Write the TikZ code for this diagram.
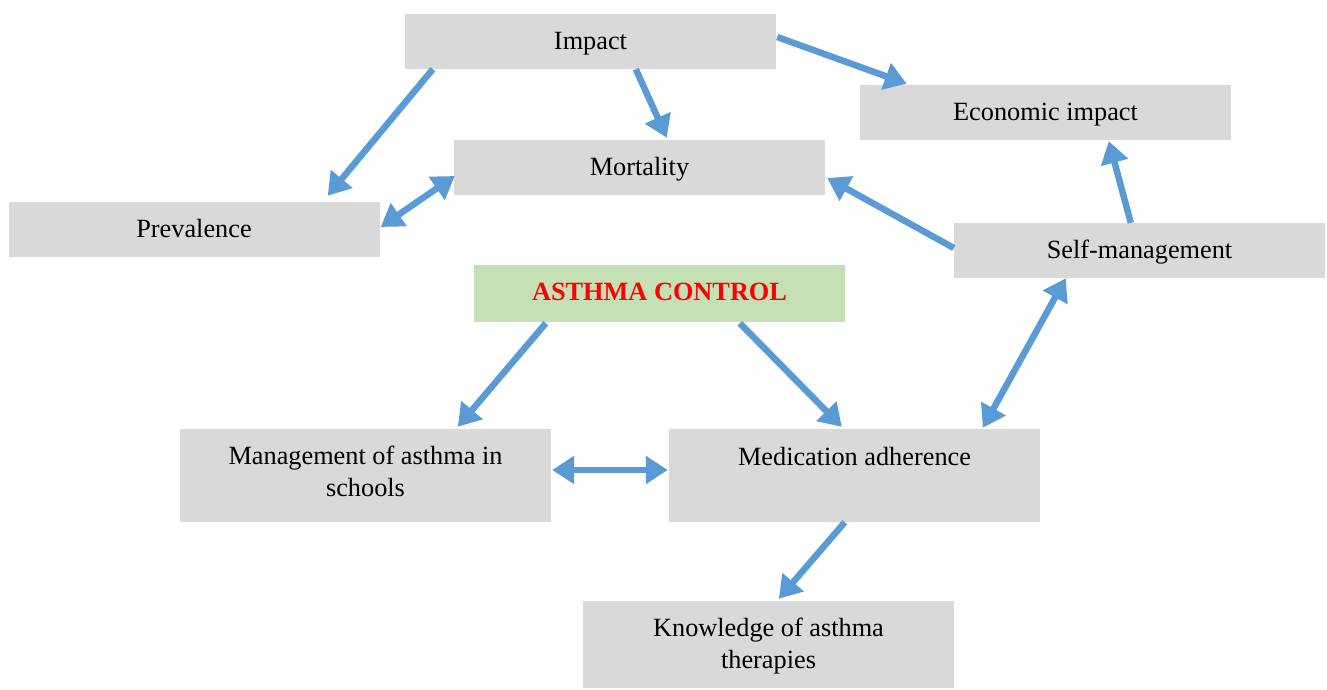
\documentclass[tikz,border=0pt]{standalone}
\usepackage{fontspec}
\setmainfont{Liberation Serif}
\usetikzlibrary{arrows.meta}
\definecolor{boxgray}{HTML}{D9D9D9}
\definecolor{boxgreen}{HTML}{C5E0B4}
\definecolor{linkblue}{HTML}{5B9BD5}
\begin{document}
\begin{tikzpicture}[x=1pt,y=-1pt,
  box/.style={fill=boxgray,draw=none,minimum width=371pt,minimum height=55pt,
    inner sep=0pt,align=center,text height=18pt,text depth=2pt,
    font=\fontsize{26.3}{32}\selectfont},
  link/.style={draw=linkblue,line width=6.5pt,-{Triangle[length=22pt,width=27pt]}},
  biglink/.style={link,{Triangle[length=22pt,width=27pt]}-{Triangle[length=22pt,width=27pt]}}]
\useasboundingbox (0,0) rectangle (1327,689);
% boxes
\node[box] (imp)  at (590.5,41.5)  {Impact};
\node[box] (eco)  at (1045.5,112.5) {Economic impact};
\node[box] (mort) at (639.5,167.5) {Mortality};
\node[box] (prev) at (194,229.5)   {Prevalence};
\node[box] (self) at (1139.5,250.5) {Self-management};
\node[box,fill=boxgreen,minimum height=57pt,text=red,text depth=4pt,
      font=\fontsize{26.3}{32}\selectfont\bfseries] (ctrl) at (659.5,293.5) {ASTHMA CONTROL};
\node[box,minimum height=93pt,text height=43pt] (mgmt) at (365.5,475.5) {Management of asthma in\\schools};
\node[box,minimum height=93pt,text depth=39pt] (med)  at (854.5,475.5) {Medication adherence};
\node[box,minimum height=87pt,text height=49pt] (know) at (768.5,644.5) {Knowledge of asthma\\therapies};
% connectors
\draw[link] ([xshift=28pt]imp.south west) -- ([xshift=-52pt,yshift=6pt]prev.north east);
\draw[link] ([xshift=231pt]imp.south west) -- ([xshift=213pt,yshift=2pt]mort.north west);
\draw[link] ([yshift=4.5pt,xshift=1pt]imp.east) -- ([xshift=47pt,yshift=1pt]eco.north west);
\draw[biglink] ([xshift=1pt,yshift=2.5pt]prev.east) -- ([xshift=1pt,yshift=-8.5pt]mort.west);
\draw[link] ([yshift=2.5pt]self.west) -- ([xshift=2pt,yshift=-10.5pt]mort.east);
\draw[link] ([xshift=177pt]self.north west) -- ([xshift=249pt,yshift=-1pt]eco.south west);
\draw[link] ([xshift=72pt,yshift=-1pt]ctrl.south west) -- ([xshift=278pt,yshift=2pt]mgmt.north west);
\draw[link] ([xshift=266pt,yshift=-1pt]ctrl.south west) -- ([xshift=173pt,yshift=2pt]med.north west);
\draw[biglink] ([xshift=1pt,yshift=5.5pt]mgmt.east) -- ([xshift=-1pt,yshift=5.5pt]med.west);
\draw[biglink] ([xshift=314pt,yshift=1pt]med.north west) -- ([xshift=112pt]self.south west);
\draw[link] ([xshift=176pt]med.south west) -- ([xshift=196pt,yshift=2pt]know.north west);
\end{tikzpicture}
\end{document}
